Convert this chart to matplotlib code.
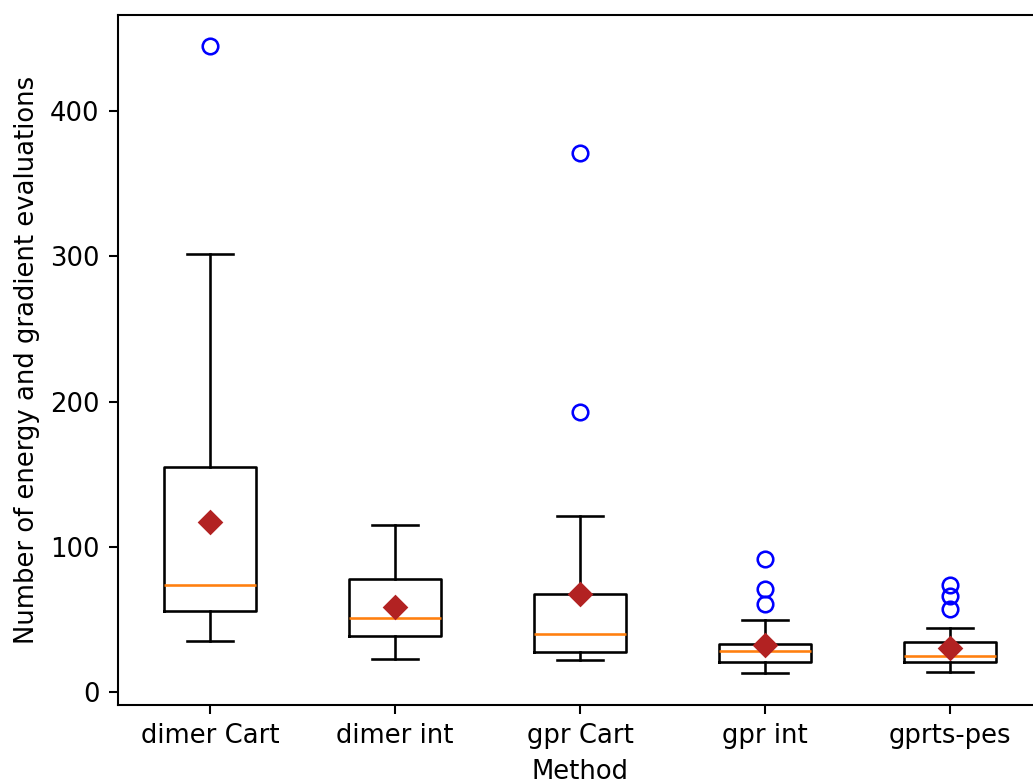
import matplotlib
matplotlib.use("Agg")
import matplotlib.pyplot as plt

# Summary statistics per method (evaluations needed to converge)
methods = ["dimer Cart", "dimer int", "gpr Cart", "gpr int", "gprts-pes"]
whisker_low = [35, 23, 22, 13, 14]
q1 = [56, 38.5, 28, 20.5, 21]
median = [74, 51, 40, 28.5, 25]
q3 = [155, 78, 67.5, 33, 34.5]
whisker_high = [302, 115, 121, 50, 44]
means = [117, 58.5, 67.5, 32.5, 30.5]
outliers = [
    [445],
    [],
    [193, 371],
    [61, 71, 92],
    [57, 66, 73.5],
]

stats = []
for i, name in enumerate(methods):
    stats.append(dict(label=name, whislo=whisker_low[i], q1=q1[i], med=median[i],
                      q3=q3[i], whishi=whisker_high[i], mean=means[i],
                      fliers=outliers[i]))

dpi = 186.5
W, H = 1033, 782
fig = plt.figure(figsize=(W / dpi, H / dpi), dpi=dpi)
left, right = 117.5 / W, 1042.5 / W
bottom, top = (H - 705) / H, (H - 15) / H
ax = fig.add_axes([left, bottom, right - left, top - bottom])

ax.bxp(stats, showmeans=True,
       meanprops=dict(marker="D", markerfacecolor="firebrick",
                      markeredgecolor="firebrick"),
       flierprops=dict(marker="o", markeredgecolor="blue",
                       markerfacecolor="none"))

ax.set_xlim(0.5, 5.5)
ax.set_ylim(-8.8, 466.2)
ax.set_yticks([0, 100, 200, 300, 400])
ax.set_xlabel("Method")
ax.set_ylabel("Number of energy and gradient evaluations")

fig.savefig("out.png", dpi=dpi)
